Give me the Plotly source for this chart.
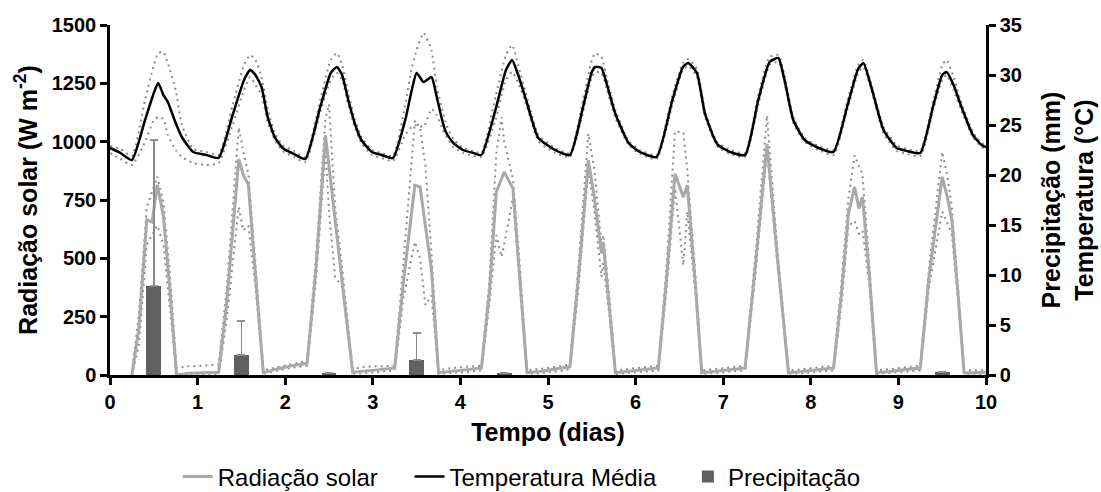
import plotly.graph_objects as go

# ---------------- data ----------------
# Solar radiation (W m-2): time in days, mean, upper and lower bound
rad_t = [0.25, 0.33, 0.42, 0.48, 0.54, 0.61, 0.68, 0.76, 0.90, 1.05,
         1.24, 1.33, 1.47, 1.52, 1.58, 1.66, 1.75, 1.90, 2.05,
         2.25, 2.35, 2.46, 2.50, 2.57, 2.65, 2.77, 2.90, 3.05,
         3.25, 3.35, 3.48, 3.54, 3.60, 3.67, 3.75, 3.90, 4.05,
         4.24, 4.33, 4.41, 4.47, 4.50, 4.60, 4.68, 4.76, 4.90, 5.10,
         5.25, 5.35, 5.46, 5.53, 5.61, 5.63, 5.70, 5.77, 5.90, 6.10,
         6.26, 6.35, 6.45, 6.545, 6.59, 6.68, 6.755, 6.90, 7.10,
         7.25, 7.37, 7.50, 7.62, 7.745, 7.90, 8.10,
         8.26, 8.35, 8.43, 8.50, 8.55, 8.59, 8.67, 8.75, 8.90, 9.10,
         9.25, 9.35, 9.50, 9.56, 9.61, 9.68, 9.75, 9.85, 10.00]
rad_mean = [0, 200, 665, 655, 815, 680, 380, 0, 8, 10,
            12, 300, 925, 860, 815, 430, 10, 25, 38,
            50, 450, 1027, 900, 665, 400, 12, 18, 22,
            30, 400, 813, 806, 640, 450, 10, 15, 22,
            30, 350, 785, 840, 870, 800, 420, 10, 15, 25,
            35, 430, 920, 760, 521, 570, 300, 10, 15, 25,
            30, 400, 863, 763, 813, 400, 10, 15, 25,
            30, 480, 991, 500, 10, 15, 25,
            30, 350, 692, 806, 713, 763, 420, 10, 15, 25,
            30, 420, 849, 760, 663, 350, 10, 10, 12]
rad_hi = [10, 260, 720, 790, 850, 740, 450, 30, 38, 40,
          45, 360, 1060, 960, 860, 480, 20, 32, 45,
          60, 500, 1100, 1160, 720, 460, 25, 35, 38,
          40, 480, 1090, 1060, 900, 520, 20, 30, 35,
          40, 400, 950, 1105, 1000, 840, 460, 20, 25, 35,
          45, 480, 1034, 880, 560, 600, 340, 20, 25, 35,
          40, 450, 1044, 1040, 880, 440, 20, 25, 35,
          40, 520, 1112, 530, 20, 25, 35,
          40, 400, 760, 941, 900, 860, 460, 20, 25, 35,
          40, 460, 956, 850, 720, 380, 20, 20, 20]
rad_lo = [0, 130, 560, 600, 640, 560, 300, 0, 0, 0,
          0, 230, 720, 620, 640, 380, 5, 18, 30,
          40, 400, 960, 700, 420, 380, 5, 8, 12,
          20, 330, 570, 500, 300, 340, 5, 8, 12,
          20, 300, 600, 506, 560, 760, 380, 5, 8, 15,
          25, 380, 880, 700, 420, 480, 260, 5, 8, 15,
          20, 350, 800, 470, 700, 360, 5, 8, 15,
          20, 440, 960, 470, 5, 8, 15,
          20, 300, 640, 660, 606, 620, 380, 5, 8, 15,
          20, 380, 700, 650, 600, 320, 5, 5, 5]

# Mean temperature (°C): time in days, mean, upper and lower bound
temp_t = [0.00, 0.12, 0.25, 0.40, 0.50, 0.55, 0.61, 0.66, 0.75, 0.82, 0.95, 1.10,
          1.24, 1.40, 1.53, 1.60, 1.66, 1.73, 1.80, 1.88, 1.97, 2.10,
          2.23, 2.40, 2.52, 2.59, 2.65, 2.72, 2.80, 2.87, 2.99, 3.10,
          3.23, 3.37, 3.44, 3.50, 3.58, 3.67, 3.73, 3.80, 3.84, 3.92, 4.03, 4.15,
          4.24, 4.40, 4.52, 4.59, 4.66, 4.76, 4.89, 5.08,
          5.25, 5.40, 5.50, 5.54, 5.61, 5.69, 5.77, 5.92, 6.05,
          6.24, 6.42, 6.54, 6.60, 6.70, 6.79, 6.89, 6.94, 7.08,
          7.25, 7.40, 7.53, 7.63, 7.70, 7.80, 7.93, 8.09,
          8.26, 8.42, 8.54, 8.60, 8.70, 8.83, 8.98, 9.10,
          9.25, 9.40, 9.50, 9.55, 9.63, 9.72, 9.85, 9.95, 10.00]
temp_mean = [22.7, 22.2, 21.5, 25.5, 28.2, 29.2, 28.0, 27.3, 25.2, 23.8, 22.3, 22.0,
             21.7, 26.0, 29.5, 30.5, 30.0, 28.8, 25.8, 23.8, 22.7, 22.1,
             21.6, 26.8, 30.2, 30.8, 30.0, 27.5, 25.0, 23.5, 22.3, 22.0,
             21.7, 25.5, 28.3, 30.2, 29.3, 29.8, 27.8, 25.2, 24.2, 23.2, 22.5, 22.2,
             22.0, 26.5, 30.5, 31.5, 30.0, 27.2, 23.7, 22.5,
             22.0, 26.8, 30.3, 30.8, 30.7, 28.5, 26.1, 23.2, 22.3,
             21.8, 27.5, 30.8, 31.2, 30.2, 26.2, 23.8, 23.0, 22.3,
             22.0, 27.5, 31.3, 31.7, 29.5, 25.5, 23.5, 22.7,
             22.3, 27.0, 30.6, 31.2, 28.5, 24.5, 22.7, 22.4,
             22.2, 27.0, 30.0, 30.3, 29.0, 26.8, 24.0, 23.0, 22.8]
temp_hi = [22.9, 22.6, 21.9, 27.5, 31.0, 32.2, 32.3, 31.2, 28.5, 25.0, 22.6, 22.3,
           22.0, 27.0, 31.0, 32.0, 31.5, 29.8, 26.6, 24.2, 23.0, 22.4,
           21.8, 27.5, 31.5, 32.2, 31.0, 28.2, 25.5, 23.8, 22.5, 22.2,
           21.9, 27.0, 30.5, 32.5, 34.2, 32.5, 28.8, 26.3, 25.0, 23.6, 22.7, 22.4,
           22.2, 27.8, 32.0, 33.0, 31.0, 27.8, 24.0, 22.7,
           22.2, 27.5, 31.5, 32.2, 31.8, 29.0, 26.5, 23.4, 22.5,
           22.0, 28.0, 31.2, 31.6, 30.6, 26.5, 24.0, 23.2, 22.5,
           22.2, 28.0, 31.8, 32.0, 30.0, 25.8, 23.7, 22.9,
           22.5, 27.5, 31.0, 31.5, 28.8, 24.8, 23.0, 22.6,
           22.4, 27.5, 31.0, 31.5, 29.8, 27.2, 24.3, 23.2, 23.0]
temp_lo = [22.2, 21.6, 21.0, 23.3, 25.5, 25.8, 25.6, 24.0, 22.5, 21.8, 21.2, 21.0,
           21.2, 25.0, 28.5, 29.8, 29.0, 28.0, 25.3, 23.5, 22.4, 21.8,
           21.3, 26.3, 29.5, 30.2, 29.5, 27.0, 24.6, 23.2, 22.0, 21.7,
           21.4, 24.0, 24.8, 25.0, 24.8, 26.6, 26.0, 24.5, 23.8, 22.8, 22.2, 21.9,
           21.8, 25.5, 29.5, 30.3, 29.2, 26.8, 23.4, 22.2,
           21.8, 26.3, 29.8, 30.3, 30.2, 28.0, 25.7, 23.0, 22.1,
           21.6, 27.0, 30.5, 30.9, 29.8, 25.9, 23.6, 22.8, 22.1,
           21.8, 27.0, 31.0, 31.3, 29.2, 25.2, 23.3, 22.5,
           22.0, 26.6, 30.2, 30.8, 28.2, 24.2, 22.4, 22.1,
           21.9, 26.6, 29.5, 30.0, 28.5, 26.4, 23.8, 22.8, 22.6]

# Precipitation (mm) per day, with upward error (mm)
precip_day = [0.5, 1.5, 2.5, 3.5, 4.5, 9.5]
precip_mm = [8.9, 2.0, 0.2, 1.5, 0.2, 0.3]
precip_err = [14.6, 3.4, None, 2.7, None, None]

# ticks
x_ticks = [0, 1, 2, 3, 4, 5, 6, 7, 8, 9, 10]
y1_ticks = [0, 250, 500, 750, 1000, 1250, 1500]
y2_ticks = [0, 5, 10, 15, 20, 25, 30, 35]

# ---------------- styles ----------------
FONT = "Liberation Sans, Arial, Helvetica, sans-serif"
DOT = dict(color="#8c8c8c", width=2, dash="2px,4px")
DOT_T = dict(color="#8c8c8c", width=2, dash="2px,4px", shape="spline", smoothing=0.5)
RAD_COLOR = "#a9a9a9"
PREC_COLOR = "#606060"
PAD = "\u00a0" * 4

fig = go.Figure()

# radiation bounds (dotted) and mean
fig.add_trace(go.Scatter(x=rad_t, y=rad_hi, mode="lines", line=DOT,
                         showlegend=False, hoverinfo="skip", yaxis="y"))
fig.add_trace(go.Scatter(x=rad_t, y=rad_lo, mode="lines", line=DOT,
                         showlegend=False, hoverinfo="skip", yaxis="y"))
fig.add_trace(go.Scatter(x=rad_t, y=rad_mean, mode="lines", name="Radiação solar" + PAD,
                         line=dict(color=RAD_COLOR, width=3), yaxis="y",
                         legendrank=1))

# precipitation bars (right axis)
fig.add_trace(go.Bar(x=precip_day, y=precip_mm, width=0.17, name="Precipitação",
                     marker=dict(color=PREC_COLOR, line=dict(width=0)),
                     error_y=dict(type="data", array=precip_err, symmetric=False,
                                  arrayminus=[0] * len(precip_day),
                                  color="#8c8c8c", thickness=1.5, width=4),
                     yaxis="y2", legendrank=3))

# temperature bounds (dotted) and mean (right axis)
fig.add_trace(go.Scatter(x=temp_t, y=temp_hi, mode="lines", line=DOT_T,
                         showlegend=False, hoverinfo="skip", yaxis="y2"))
fig.add_trace(go.Scatter(x=temp_t, y=temp_lo, mode="lines", line=DOT_T,
                         showlegend=False, hoverinfo="skip", yaxis="y2"))
fig.add_trace(go.Scatter(x=temp_t, y=temp_mean, mode="lines",
                         name="Temperatura Média" + PAD,
                         line=dict(color="black", width=2.5, shape="spline", smoothing=0.5),
                         yaxis="y2", legendrank=2))

axis_common = dict(showgrid=False, zeroline=False, showline=True, linecolor="black",
                   linewidth=2.5, ticks="outside", ticklen=7, tickwidth=2.5,
                   tickcolor="black",
                   tickfont=dict(family=FONT, size=20, color="black", weight="bold"))
TITLE_FONT = dict(family=FONT, size=25, color="black", weight="bold")

fig.update_layout(
    width=1101, height=492,
    margin=dict(l=110, r=115, t=25, b=117, autoexpand=False),
    paper_bgcolor="white", plot_bgcolor="white",
    font=dict(family=FONT, color="black"),
    bargap=0,
    xaxis=dict(range=[0, 10], tickvals=x_ticks, **axis_common,
               title=dict(text="Tempo (dias)", standoff=12, font=TITLE_FONT)),
    yaxis=dict(range=[0, 1500], tickvals=y1_ticks, **axis_common,
               title=dict(text="Radiação solar (W m<sup>-2</sup>)", standoff=8,
                          font=TITLE_FONT)),
    yaxis2=dict(range=[0, 35], tickvals=y2_ticks, overlaying="y", side="right",
                **axis_common,
                title=dict(text="Precipitação (mm)<br>Temperatura (°C)", standoff=22,
                           font=TITLE_FONT)),
    legend=dict(orientation="h", x=0.47, xanchor="center", y=-0.291, yanchor="middle",
                font=dict(family=FONT, size=24, color="black"),
                bgcolor="rgba(0,0,0,0)", itemwidth=30, traceorder="normal"),
    showlegend=True,
)

fig.write_html("out.html")
